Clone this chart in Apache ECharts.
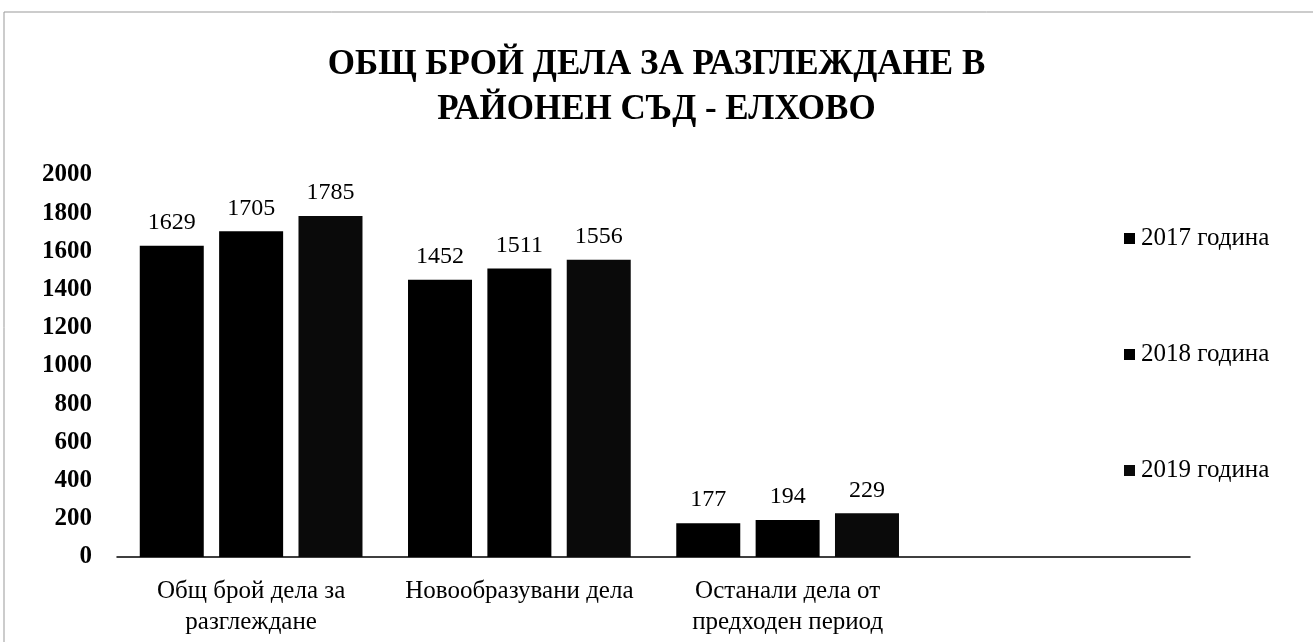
<!DOCTYPE html>
<html>
<head>
<meta charset="utf-8">
<style>
  html, body { margin: 0; padding: 0; background: #fff; }
  #chart { width: 1313px; height: 642px; }
</style>
<script src="https://cdn.jsdelivr.net/npm/echarts@6/dist/echarts.min.js"></script>
</head>
<body>
<div id="chart"></div>
<script>
  // categories (4th slot is empty, as in the original)
  var categories = ["Общ брой дела за\nразглеждане", "Новообразувани дела", "Останали дела от\nпредходен период", ""];
  var seriesNames = ["2017 година", "2018 година", "2019 година"];
  var values2017 = [1629, 1452, 177, "-"];
  var values2018 = [1705, 1511, 194, "-"];
  var values2019 = [1785, 1556, 229, "-"];

  var font = "'Liberation Serif', 'Times New Roman', serif";
  var chart = echarts.init(document.getElementById("chart"));

  function makeSeries(name, data, color) {
    return {
      name: name,
      type: "bar",
      data: data,
      barWidth: 64,
      barGap: "24%",
      itemStyle: { color: color },
      label: {
        show: true,
        position: "top",
        distance: 11,
        color: "#000",
        fontFamily: font,
        fontSize: 24
      }
    };
  }

  chart.setOption({
    animation: false,
    backgroundColor: "#fff",
    title: {
      text: "ОБЩ БРОЙ ДЕЛА ЗА РАЗГЛЕЖДАНЕ В\nРАЙОНЕН СЪД - ЕЛХОВО",
      left: "center",
      top: 37,
      textStyle: {
        fontFamily: font,
        fontWeight: "bold",
        fontSize: 35,
        lineHeight: 45,
        color: "#000"
      }
    },
    legend: {
      orient: "vertical",
      left: 1119,
      top: 221,
      itemGap: 91,
      itemWidth: 11,
      itemHeight: 11,
      icon: "rect",
      textStyle: { fontFamily: font, fontSize: 25, color: "#000", padding: [0, 0, 0, 1] },
      data: seriesNames
    },
    grid: { left: 117, right: 123, top: 175, bottom: 85 },
    xAxis: {
      type: "category",
      data: categories,
      axisLine: { lineStyle: { color: "#000", width: 1.5 } },
      axisTick: { show: false },
      axisLabel: {
        interval: 0,
        margin: 19,
        fontFamily: font,
        fontSize: 25,
        lineHeight: 31,
        color: "#000"
      }
    },
    yAxis: {
      type: "value",
      min: 0,
      max: 2000,
      interval: 200,
      axisLine: { show: false },
      axisTick: { show: false },
      splitLine: { show: false },
      axisLabel: {
        margin: 25,
        formatter: function (v) { return String(v); },
        fontFamily: font,
        fontWeight: "bold",
        fontSize: 25,
        color: "#000"
      }
    },
    graphic: [{
      type: "rect",
      shape: { x: 4, y: 12, width: 1320, height: 640 },
      style: { fill: null, stroke: "#999", lineWidth: 1 },
      silent: true
    }],
    series: [
      makeSeries(seriesNames[0], values2017, "#000"),
      makeSeries(seriesNames[1], values2018, "#000"),
      makeSeries(seriesNames[2], values2019, "#0a0a0a")
    ]
  });
</script>
</body>
</html>
